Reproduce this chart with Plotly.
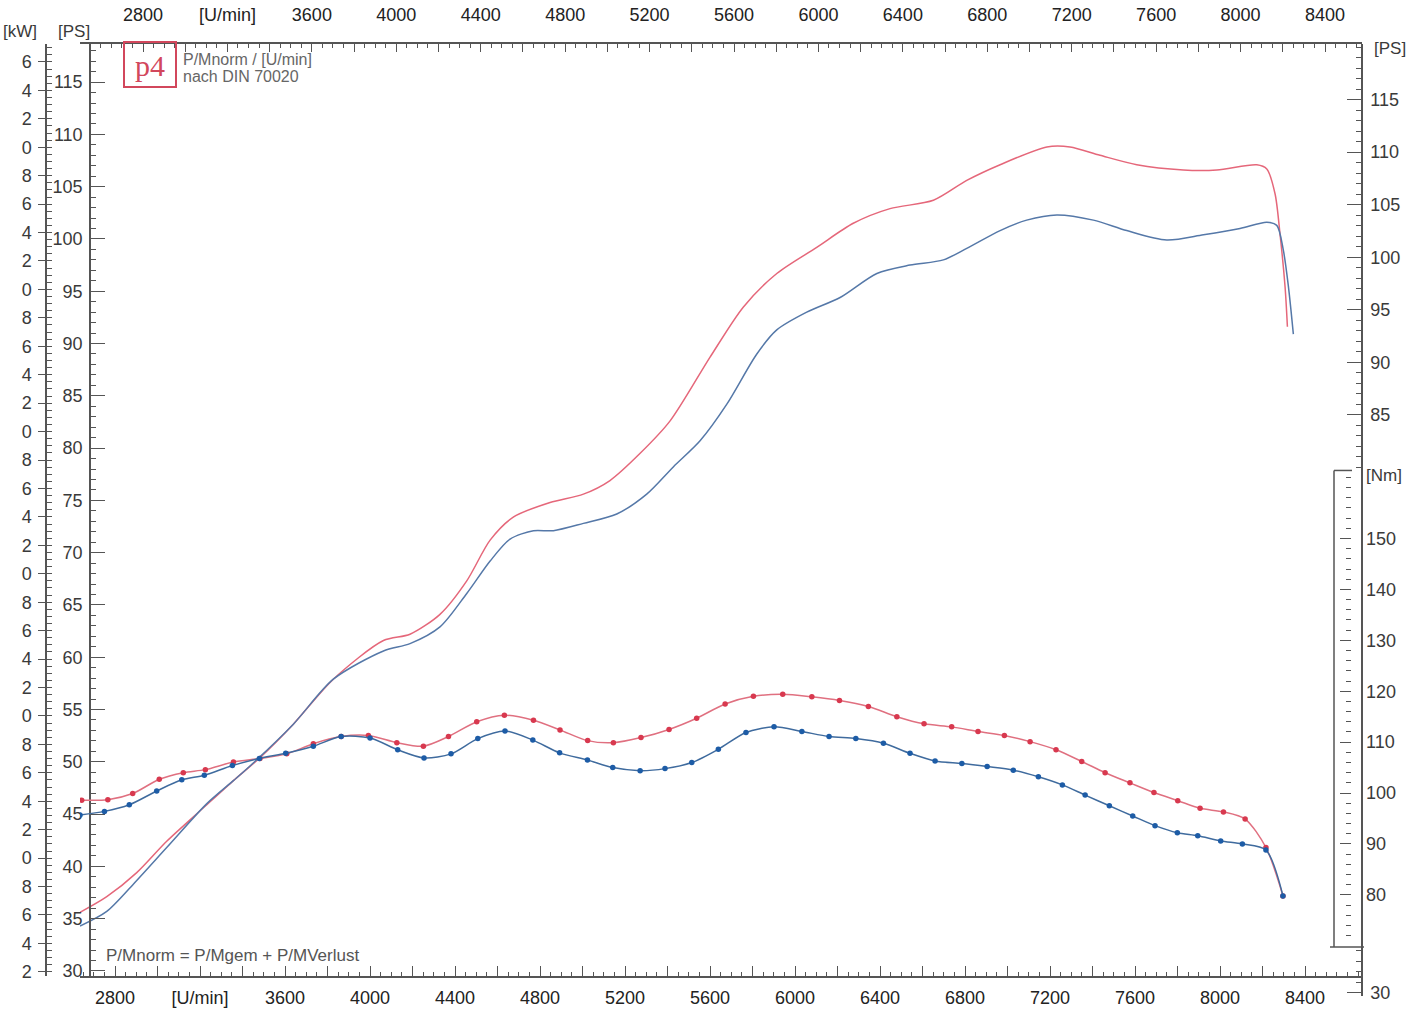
import plotly.graph_objects as go

# ---------------- data (read from the dyno sheet) ----------------
# Power curves [PS] vs engine speed [U/min]
power_red_rpm = [2635, 2761, 2902, 3043, 3216, 3357, 3482, 3639, 3827, 4063, 4188, 4329,
                 4455, 4565, 4674, 4847, 5004, 5129, 5271, 5412, 5600, 5757, 5914, 6102,
                 6274, 6447, 6651, 6808, 6965, 7185, 7294, 7435, 7608, 7827, 7985, 8173,
                 8220, 8259, 8282, 8306, 8317]
power_red_ps = [35.6, 37.1, 39.4, 42.4, 45.6, 48.2, 50.4, 53.6, 57.9, 61.6, 62.2, 64.1,
                67.3, 71.2, 73.4, 74.8, 75.6, 76.9, 79.5, 82.6, 88.7, 93.5, 96.7, 99.2,
                101.5, 102.9, 103.7, 105.6, 107.1, 108.8, 108.8, 108.0, 107.1, 106.6, 106.6, 107.1,
                106.7, 104.3, 100.5, 95.4, 91.6]

power_blue_rpm = [2635, 2761, 2886, 3043, 3232, 3357, 3435, 3639, 3827, 4063, 4188, 4329,
                  4455, 4565, 4659, 4769, 4863, 5004, 5161, 5302, 5427, 5553, 5679, 5820,
                  5914, 6055, 6212, 6385, 6541, 6698, 6808, 6965, 7090, 7232, 7404, 7561,
                  7749, 7922, 8094, 8220, 8267, 8298, 8322, 8345]
power_blue_ps = [34.3, 35.7, 38.3, 41.8, 46.0, 48.2, 49.6, 53.6, 57.9, 60.6, 61.3, 62.9,
                 66.1, 69.2, 71.3, 72.1, 72.1, 72.8, 73.7, 75.6, 78.2, 80.7, 84.2, 89.0,
                 91.3, 93.0, 94.4, 96.7, 97.5, 98.0, 99.1, 100.8, 101.8, 102.3, 101.8, 100.8,
                 99.9, 100.4, 101.0, 101.6, 101.3, 98.9, 95.4, 90.9]

# Torque curves [Nm] vs engine speed [U/min]
torque_red_rpm = [2643, 2766, 2883, 3008, 3121, 3225, 3357, 3482, 3608, 3733, 3864, 3992,
                  4126, 4251, 4369, 4502, 4632, 4769, 4894, 5024, 5145, 5275, 5407, 5537,
                  5671, 5804, 5942, 6079, 6209, 6345, 6479, 6607, 6737, 6861, 6985, 7106,
                  7228, 7349, 7459, 7576, 7689, 7801, 7906, 8016, 8118, 8216, 8296]
torque_red_nm = [98.6, 98.7, 99.9, 102.7, 104.0, 104.6, 106.1, 106.8, 107.7, 109.7, 111.1, 111.3,
                 109.9, 109.2, 111.1, 114.0, 115.3, 114.3, 112.4, 110.3, 109.9, 110.9, 112.5, 114.7,
                 117.5, 119.0, 119.4, 118.9, 118.2, 117.0, 115.0, 113.6, 113.0, 112.1, 111.3, 110.1,
                 108.5, 106.2, 104.0, 102.0, 100.1, 98.5, 97.0, 96.3, 94.9, 89.3, 79.8]

torque_blue_rpm = [2635, 2750, 2867, 2996, 3114, 3220, 3352, 3479, 3603, 3733, 3864, 4000,
                   4130, 4254, 4381, 4507, 4635, 4766, 4892, 5023, 5142, 5271, 5388, 5514,
                   5639, 5769, 5901, 6032, 6160, 6286, 6416, 6541, 6659, 6785, 6904, 7027,
                   7145, 7258, 7365, 7479, 7589, 7694, 7799, 7895, 8003, 8105, 8216, 8296]
torque_blue_nm = [95.7, 96.4, 97.7, 100.4, 102.6, 103.5, 105.4, 106.8, 107.8, 109.2, 111.1, 110.8,
                  108.5, 106.9, 107.7, 110.7, 112.2, 110.4, 107.9, 106.5, 105.0, 104.4, 104.8, 106.0,
                  108.6, 111.9, 113.0, 112.1, 111.1, 110.7, 109.8, 107.8, 106.3, 105.8, 105.2, 104.5,
                  103.2, 101.6, 99.6, 97.5, 95.5, 93.6, 92.2, 91.6, 90.6, 90.0, 88.8, 79.8]

# Tick labels
rpm_tick_vals = list(range(2800, 8401, 200))
rpm_tick_text = [("[U/min]" if v == 3200 else str(v)) if v % 400 == 0 else "" for v in rpm_tick_vals]
ps_left_ticks = list(range(30, 116, 5))
ps_right_ticks = [30, 85, 90, 95, 100, 105, 110, 115]
nm_ticks = list(range(80, 151, 10))
kw_ticks = list(range(22, 87, 2))
kw_tick_text = [str(v % 10) for v in kw_ticks]

# ---------------- layout helpers ----------------
W, H = 1422, 1030
H_REF = 1022   # design grid (the page is photographed at this height)


def fx(px):
    return px / W


def fy(px):
    return 1 - px / H_REF


FONT = "Liberation Sans, Arial, Helvetica, sans-serif"
AX = "#555555"
LBL = "#3a3a3a"

RED_P = "#e5677a"
BLUE_P = "#5578a8"
RED_T_LINE = "#e07080"
RED_T_MARK = "#d8394f"
BLUE_T_LINE = "#3f6b9e"
BLUE_T_MARK = "#1d5ca6"

fig = go.Figure()

fig.add_trace(go.Scatter(x=power_red_rpm, y=power_red_ps, mode="lines",
                         line=dict(color=RED_P, width=1.5, shape="spline", smoothing=0.8),
                         xaxis="x", yaxis="y", showlegend=False, hoverinfo="skip"))
fig.add_trace(go.Scatter(x=power_blue_rpm, y=power_blue_ps, mode="lines",
                         line=dict(color=BLUE_P, width=1.5, shape="spline", smoothing=0.8),
                         xaxis="x", yaxis="y", showlegend=False, hoverinfo="skip"))
fig.add_trace(go.Scatter(x=torque_red_rpm, y=torque_red_nm, mode="lines+markers",
                         line=dict(color=RED_T_LINE, width=1.5, shape="spline", smoothing=0.8),
                         marker=dict(color=RED_T_MARK, size=5.5),
                         xaxis="x", yaxis="y4", showlegend=False, hoverinfo="skip"))
fig.add_trace(go.Scatter(x=torque_blue_rpm, y=torque_blue_nm, mode="lines+markers",
                         line=dict(color=BLUE_T_LINE, width=1.5, shape="spline", smoothing=0.8),
                         marker=dict(color=BLUE_T_MARK, size=5.5),
                         xaxis="x", yaxis="y4", showlegend=False, hoverinfo="skip"))
# helper (empty) traces so that the secondary scales are drawn
for xa, ya in [("x2", "y"), ("x", "y2"), ("x", "y5")]:
    fig.add_trace(go.Scatter(x=[None], y=[None], mode="lines", xaxis=xa, yaxis=ya,
                             showlegend=False, hoverinfo="skip"))

tickfont = dict(family=FONT, size=18, color=LBL)

common_ax = dict(showgrid=False, zeroline=False, showline=True, linecolor=AX, linewidth=1.5,
                 tickcolor=AX, tickwidth=1.2, fixedrange=True)

fig.update_layout(
    width=W, height=H, autosize=False,
    margin=dict(l=0, r=0, t=0, b=0),
    paper_bgcolor="white", plot_bgcolor="rgba(0,0,0,0)",
    showlegend=False,
    xaxis=dict(domain=[fx(80), fx(1362)], range=[2635, 8668], anchor="y",
               tickmode="array", tickvals=rpm_tick_vals, ticktext=rpm_tick_text,
               ticks="inside", ticklen=10, ticklabelstandoff=5,
               minor=dict(dtick=50, tick0=0, ticks="inside", ticklen=4, tickcolor=AX, tickwidth=1),
               tickfont=dict(family=FONT, size=18, color="#222222"), **common_ax),
    xaxis2=dict(overlaying="x", side="top", anchor="y", range=[2501.5, 8575.3],
                tickmode="array", tickvals=rpm_tick_vals, ticktext=rpm_tick_text,
                ticks="inside", ticklen=8, ticklabelstandoff=14,
                minor=dict(dtick=50, tick0=0, ticks="inside", ticklen=4, tickcolor=AX, tickwidth=1),
                tickfont=dict(family=FONT, size=18, color="#222222"), **common_ax),
    yaxis=dict(domain=[fy(975), fy(44)], range=[29.52, 118.64], anchor="free", position=fx(90),
               side="left", tickmode="array", tickvals=ps_left_ticks,
               ticks="inside", ticklen=14, ticklabelstandoff=3,
               minor=dict(dtick=1, tick0=0, ticks="inside", ticklen=5, tickcolor=AX, tickwidth=1),
               tickfont=tickfont, **common_ax),
    yaxis2=dict(domain=[fy(995), fy(44)], range=[29.714, 120.286], anchor="free", position=fx(1362),
                side="right", tickmode="array", tickvals=ps_right_ticks,
                ticks="inside", ticklen=14, ticklabelstandoff=4,
                minor=dict(tickmode="array", tickvals=list(range(31, 35)) + list(range(80, 121)),
                           ticks="inside", ticklen=5, tickcolor=AX, tickwidth=1),
                tickfont=tickfont, **common_ax),
    yaxis4=dict(domain=[fy(945), fy(470)], range=[69.97, 163.37], anchor="free", position=fx(1351),
                side="right", tickmode="array", tickvals=nm_ticks,
                ticks="inside", ticklen=11, ticklabelstandoff=14,
                minor=dict(dtick=2, tick0=0, ticks="inside", ticklen=5, tickcolor=AX, tickwidth=1),
                tickfont=tickfont, showgrid=False, zeroline=False, showline=False,
                tickcolor=AX, tickwidth=1.2, fixedrange=True),
    yaxis5=dict(overlaying="y", range=[21.712, 87.260], anchor="free", position=fx(46),
                side="left", tickmode="array", tickvals=kw_ticks, ticktext=kw_tick_text,
                ticks="outside", ticklen=7, ticklabelstandoff=3,
                minor=dict(dtick=0.5, tick0=0, ticks="inside", ticklen=5, tickcolor=AX, tickwidth=1),
                tickfont=tickfont, **common_ax),
)

annotations = [
    dict(text="[PS]", x=fx(74), y=fy(31), xanchor="center", yanchor="middle",
         font=dict(family=FONT, size=17, color=LBL)),
    dict(text="[kW]", x=fx(39), y=fy(31), xanchor="right", yanchor="middle",
         font=dict(family=FONT, size=17, color=LBL)),
    dict(text="[PS]", x=fx(1372), y=fy(48), xanchor="left", yanchor="middle",
         font=dict(family=FONT, size=17, color=LBL)),
    dict(text="[Nm]", x=fx(1364), y=fy(475), xanchor="left", yanchor="middle",
         font=dict(family=FONT, size=17, color=LBL)),
    dict(text="P/Mnorm / [U/min]", x=fx(181), y=fy(59), xanchor="left", yanchor="middle",
         font=dict(family=FONT, size=16, color="#666666")),
    dict(text="nach DIN 70020", x=fx(181), y=fy(76), xanchor="left", yanchor="middle",
         font=dict(family=FONT, size=16, color="#666666")),
    dict(text="p4", x=fx(150), y=fy(65), xanchor="center", yanchor="middle",
         font=dict(family="Liberation Serif, DejaVu Serif, serif", size=30, color="#d2475c")),
    dict(text="P/Mnorm = P/Mgem + P/MVerlust", x=fx(104), y=fy(955), xanchor="left", yanchor="middle",
         font=dict(family=FONT, size=17, color="#555555")),
]
for a in annotations:
    a.update(xref="paper", yref="paper", showarrow=False)
fig.update_layout(annotations=annotations)

shapes = [
    # logo frame
    dict(type="rect", x0=fx(124), x1=fx(176), y0=fy(87), y1=fy(42),
         line=dict(color="#d2475c", width=2)),
    # torque scale box
    dict(type="line", x0=fx(1334), x1=fx(1334), y0=fy(946), y1=fy(470), line=dict(color=AX, width=1.5)),
    dict(type="line", x0=fx(1334), x1=fx(1352), y0=fy(470), y1=fy(470), line=dict(color=AX, width=1.5)),
    dict(type="line", x0=fx(1330), x1=fx(1364), y0=fy(946), y1=fy(946), line=dict(color=AX, width=1.5)),
]
for s in shapes:
    s.update(xref="paper", yref="paper", layer="above")
fig.update_layout(shapes=shapes)

fig.write_html("out.html", config={"displayModeBar": False},
               post_script="document.body.style.margin='0';")
